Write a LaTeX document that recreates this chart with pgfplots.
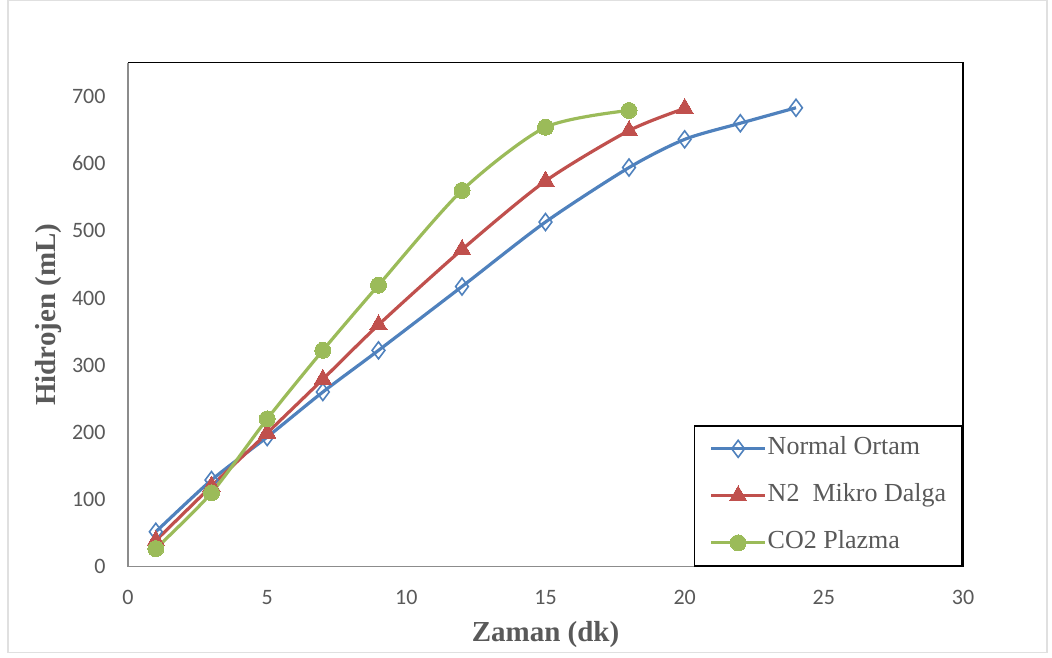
\documentclass[border=0pt]{standalone}
\usepackage{fontspec}
\setmainfont{Liberation Serif}
\newfontfamily\calibri{Carlito}
\newfontfamily\timesfont{Liberation Serif}
\usepackage{pgfplots}
\pgfplotsset{compat=1.18}
\definecolor{cblue}{HTML}{4F81BD}
\definecolor{cred}{HTML}{C0504D}
\definecolor{cgreen}{HTML}{9BBB59}
\definecolor{ctext}{HTML}{595959}
\definecolor{caxis}{HTML}{8C8C8C}
\begin{document}
\begin{tikzpicture}[x=1pt,y=1pt]
\path (-128,-91) rectangle (924,566);
\draw[black!12,line width=1.5pt] (-120,-86) rectangle (919,566);
\begin{axis}[
  scale only axis,
  width=835pt, height=504pt,
  xmin=0, xmax=30, ymin=0, ymax=750,
  xtick={0,5,...,30}, ytick={0,100,...,700},
  major tick length=0pt,
  axis line style={draw=none},
  /pgf/number format/assume math mode=true,
  tick label style={font=\calibri\fontsize{22}{26}\selectfont, text=ctext},
  yticklabel style={xshift=-19pt},
  xticklabel style={yshift=-20pt},
  xlabel={\textbf{Zaman (dk)}},
  ylabel={\textbf{Hidrojen (mL)}},
  label style={font=\timesfont\fontsize{29}{34}\selectfont, text=ctext},
  xlabel style={yshift=-10pt},
  ylabel style={yshift=3pt},
  clip=false,
  legend cell align=left,
  legend style={at={(rel axis cs:1,0)}, anchor=south east, draw=black, line width=1.8pt,
    fill=white, text=ctext,
    row sep=21pt, inner xsep=15pt, inner ysep=10pt,
    nodes={inner sep=1pt, text height=18pt, text depth=6pt, font=\timesfont\fontsize{26}{30}\selectfont}},
  legend image code/.code={\draw[#1, mark repeat=2, mark phase=2] plot coordinates {(0pt,0pt) (27pt,0pt) (54pt,0pt)};},
  every axis plot/.append style={line width=3.2pt, smooth, tension=0.45},
]
\addplot[cblue, mark=diamond, mark options={line width=1.6pt, fill=white}, mark size=8.5pt]
  coordinates {(1,52) (3,129) (5,193) (7,260) (9,322) (12,417) (15,513) (18,594) (20,636) (22,660) (24,683)};
\addlegendentry{Normal Ortam}
\addplot[cred, mark=triangle*, mark options={line width=0pt}, mark size=10pt]
  coordinates {(1,39) (3,120) (5,199) (7,279) (9,360) (12,472) (15,574) (18,649) (20,682)};
\addlegendentry{N2\ \ Mikro Dalga}
\addplot[cgreen, mark=*, mark options={line width=0pt}, mark size=8pt]
  coordinates {(1,27) (3,110) (5,220) (7,322) (9,419) (12,560) (15,654) (18,679)};
\addlegendentry{CO2 Plazma}
\draw[caxis, line width=1.5pt] (rel axis cs:0,1) -- (rel axis cs:0,0) -- (rel axis cs:1,0);
\draw[black, line width=1.5pt] (rel axis cs:0,1) -- (rel axis cs:1,1) -- (rel axis cs:1,0);
\end{axis}
\end{tikzpicture}
\end{document}
